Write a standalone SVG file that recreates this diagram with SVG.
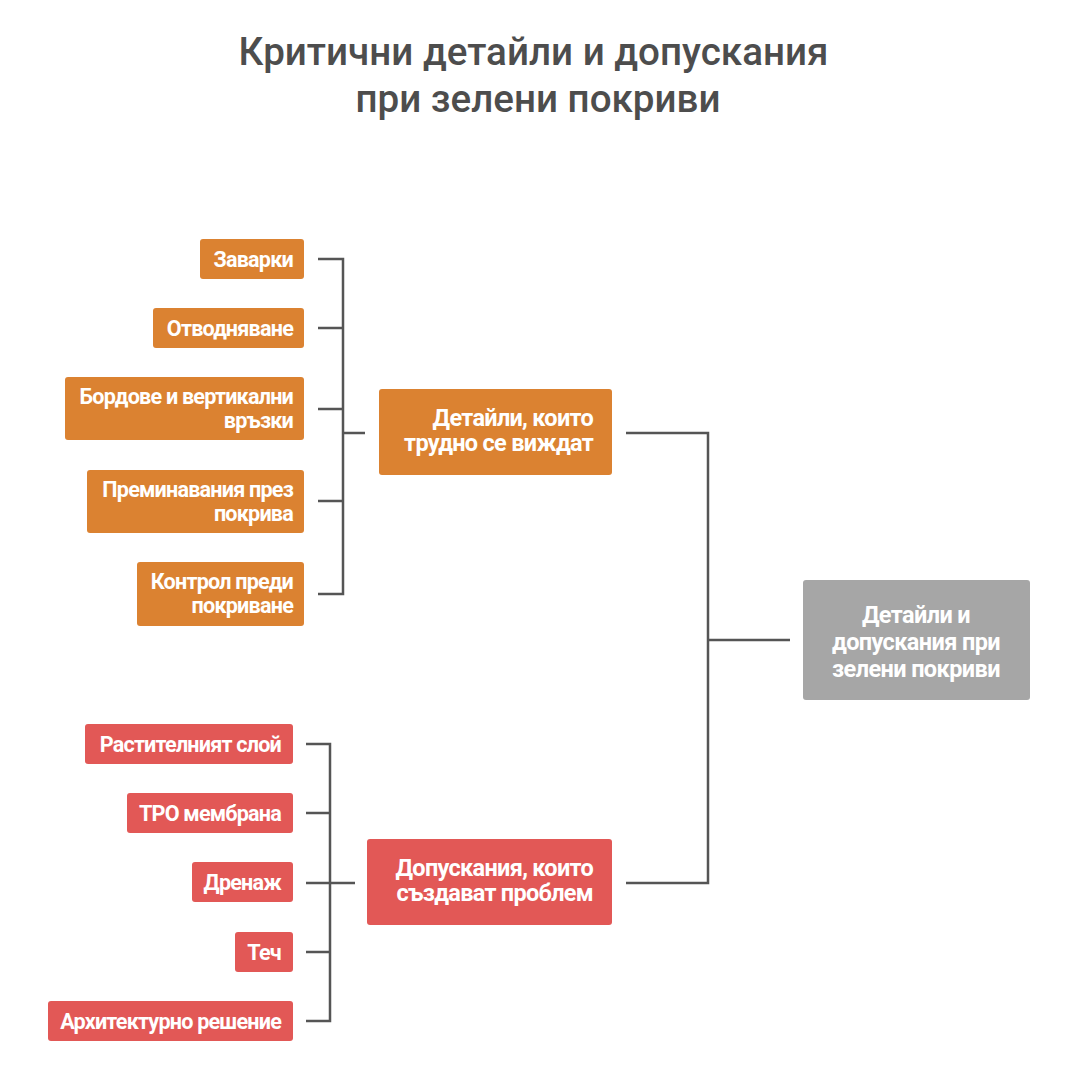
<svg xmlns="http://www.w3.org/2000/svg" width="1080" height="1080" viewBox="0 0 1080 1080">
<style>
.t{font-family:Roboto,"Liberation Sans",sans-serif;font-size:38.6px;font-weight:500;fill:#4d4d4d;text-anchor:middle}
.n{font-family:Roboto,"Liberation Sans",sans-serif;font-size:21.6px;font-weight:700;fill:#fff;letter-spacing:-0.8px;text-anchor:end}
.p{font-size:23.5px;letter-spacing:-0.7px}
.c{text-anchor:middle;letter-spacing:-0.6px}
.o{fill:#db8231}
.r{fill:#e25856}
.g{fill:#a6a6a6}
.ln{fill:none;stroke:#555;stroke-width:2.5}
</style>
<rect width="1080" height="1080" fill="#fff"/>
<text class="t" x="533.5" y="65">Критични детайли и допускания</text>
<text class="t" x="538" y="112">при зелени покриви</text>
<g id="connectors">
<path class="ln" d="M318 259H343V594H318M318 328H343M318 409H343M318 501H343M343 433H365"/>
<path class="ln" d="M306 744H330V1021H306M306 813H330M306 883H330M306 952H330M330 883H355"/>
<path class="ln" d="M626 433H708V883H626M708 640H790"/>
</g>
<g id="root"><rect class="g" x="803" y="580" width="227" height="120" rx="3"/>
<text class="n p c" x="916" y="623">Детайли и</text><text class="n p c" x="916" y="650">допускания при</text><text class="n p c" x="916" y="677">зелени покриви</text></g>
<g id="p1"><rect class="o" x="379" y="389" width="233" height="86" rx="3"/>
<text class="n p" x="593" y="426">Детайли, които</text><text class="n p" x="593" y="451">трудно се виждат</text></g>
<g id="p2"><rect class="r" x="367" y="839" width="245" height="86" rx="3"/>
<text class="n p" x="593" y="876">Допускания, които</text><text class="n p" x="593" y="901">създават проблем</text></g>
<g id="o1"><rect class="o" x="200" y="239" width="104" height="40" rx="3"/><text class="n" x="293" y="267">Заварки</text></g>
<g id="o2"><rect class="o" x="153" y="308" width="151" height="40" rx="3"/><text class="n" x="293" y="336">Отводняване</text></g>
<g id="o3"><rect class="o" x="65" y="377" width="239" height="63" rx="3"/><text class="n" x="293" y="404">Бордове и вертикални</text><text class="n" x="293" y="428">връзки</text></g>
<g id="o4"><rect class="o" x="87" y="470" width="217" height="63" rx="3"/><text class="n" x="293" y="497">Преминавания през</text><text class="n" x="293" y="521">покрива</text></g>
<g id="o5"><rect class="o" x="137" y="562" width="167" height="64" rx="3"/><text class="n" x="293" y="589">Контрол преди</text><text class="n" x="293" y="613">покриване</text></g>
<g id="r1"><rect class="r" x="85" y="724" width="208" height="40" rx="3"/><text class="n" x="281" y="752">Растителният слой</text></g>
<g id="r2"><rect class="r" x="127" y="793" width="166" height="40" rx="3"/><text class="n" x="281" y="821">ТРО мембрана</text></g>
<g id="r3"><rect class="r" x="192" y="862" width="101" height="40" rx="3"/><text class="n" x="281" y="890">Дренаж</text></g>
<g id="r4"><rect class="r" x="235" y="932" width="58" height="40" rx="3"/><text class="n" x="281" y="960">Теч</text></g>
<g id="r5"><rect class="r" x="48" y="1001" width="245" height="40" rx="3"/><text class="n" x="281" y="1029">Архитектурно решение</text></g>
</svg>
